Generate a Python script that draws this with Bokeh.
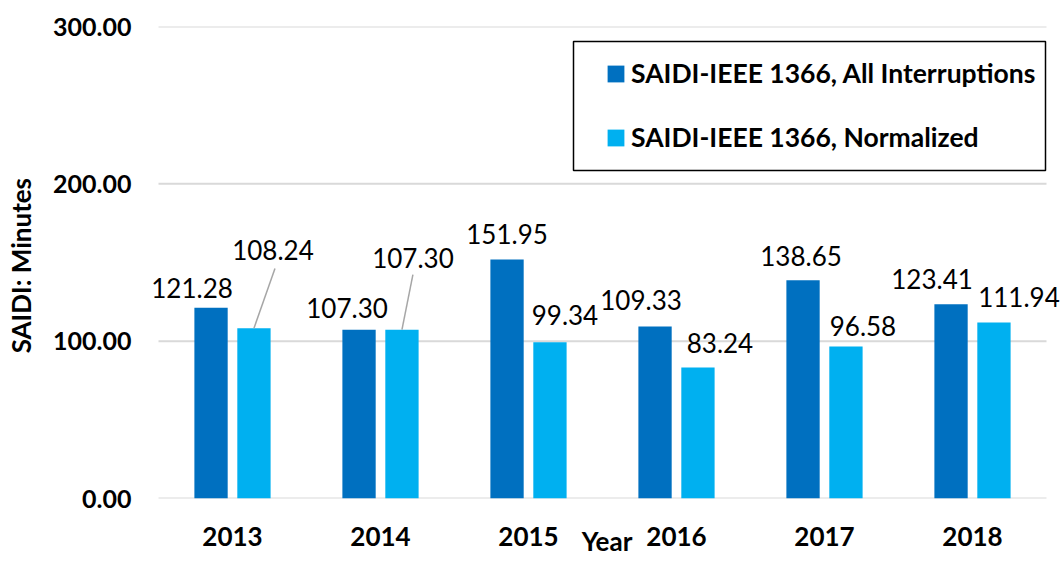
from bokeh.plotting import figure
from bokeh.models import (ColumnDataSource, Range1d, FixedTicker, NumeralTickFormatter,
                          Legend, LegendItem, BoxAnnotation)
from bokeh.embed import file_html
from bokeh.resources import INLINE
from bokeh.core.properties import value

# ---------------- data ----------------
years = ["2013", "2014", "2015", "2016", "2017", "2018"]
all_interruptions = [121.28, 107.30, 151.95, 109.33, 138.65, 123.41]
normalized = [108.24, 107.30, 99.34, 83.24, 96.58, 111.94]
y_ticks = [0, 100, 200, 300]
series_names = ["SAIDI-IEEE 1366, All Interruptions", "SAIDI-IEEE 1366, Normalized"]
x_title = "Year"
y_title = "SAIDI:  Minutes"
colors = ["#0070C0", "#00B0F0"]

# label nudges (screen px) as placed in the original chart
all_label_dx = [-19, -12, 0, -14, -2, -19]
all_label_dy = [-20, -22, -25, -26, -24, -25]
norm_label_dx = [19, 11, 15, 22, 17, 25]
norm_label_dy = [-78, -72, -27, -25, -21, -25]
# leader lines for the two displaced normalized labels
leader_idx = [0, 1]
leader_dx = [0.142, 0.074]
leader_dy = [38, 35]

FONT = "Lato"
BAR_W = 0.225
DODGE = 0.145
W, H = 1063, 569
LEFT, TOP, RIGHT, BOTTOM = 150, 26, 0, 71
PLOT_W_PX = 888          # width of the gridded area
PAD_L_PX, PAD_R_PX = 8, 17  # extra frame room (for labels) outside the gridded area
unit = PLOT_W_PX / len(years)

centers = [i + 0.5 for i in range(len(years))]
x_all = [c - DODGE for c in centers]
x_norm = [c + DODGE for c in centers]

src_all = ColumnDataSource(dict(x=x_all, top=all_interruptions,
                                lab=[f"{v:.2f}" for v in all_interruptions],
                                dx=all_label_dx, dy=all_label_dy))
src_norm = ColumnDataSource(dict(x=x_norm, top=normalized,
                                 lab=[f"{v:.2f}" for v in normalized],
                                 dx=norm_label_dx, dy=norm_label_dy))

p = figure(width=W, height=H, output_backend="svg", toolbar_location=None,
           x_range=Range1d(-PAD_L_PX / unit, len(years) + PAD_R_PX / unit),
           y_range=Range1d(0, 300),
           min_border_left=LEFT, min_border_right=RIGHT, min_border_top=TOP,
           min_border_bottom=BOTTOM)
p.outline_line_color = None
p.background_fill_color = "white"
p.border_fill_color = "white"

# horizontal gridlines across the category area only
p.segment(x0=[0] * len(y_ticks), x1=[len(years)] * len(y_ticks), y0=y_ticks, y1=y_ticks,
          line_color="#d9d9d9", line_width=2, level="underlay")

r_all = p.vbar(x="x", top="top", bottom=0, width=BAR_W, source=src_all,
               fill_color=colors[0], line_color=None)
r_norm = p.vbar(x="x", top="top", bottom=0, width=BAR_W, source=src_norm,
                fill_color=colors[1], line_color=None)

# leader lines
lx0 = [x_norm[i] for i in leader_idx]
ly0 = [normalized[i] for i in leader_idx]
lx1 = [x_norm[i] + d for i, d in zip(leader_idx, leader_dx)]
ly1 = [normalized[i] + d for i, d in zip(leader_idx, leader_dy)]
p.segment(x0=lx0, y0=ly0, x1=lx1, y1=ly1, line_color="#a6a6a6", line_width=1.5)

# data labels
for src in (src_all, src_norm):
    p.text(x="x", y="top", text="lab", source=src, x_offset="dx", y_offset="dy",
           text_align="center", text_baseline="middle",
           text_font=value(FONT), text_font_size="26px", text_color="black")

# axes
p.yaxis.ticker = FixedTicker(ticks=y_ticks)
p.yaxis.formatter = NumeralTickFormatter(format="0.00")
p.yaxis.axis_line_color = None
p.yaxis.major_tick_line_color = None
p.yaxis.minor_tick_line_color = None
p.yaxis.major_label_text_font = FONT
p.yaxis.major_label_text_font_style = "bold"
p.yaxis.major_label_text_font_size = "25px"
p.yaxis.major_label_text_color = "black"
p.yaxis.major_label_standoff = 13
p.yaxis.axis_label = y_title
p.yaxis.axis_label_text_font = FONT
p.yaxis.axis_label_text_font_style = "bold"
p.yaxis.axis_label_text_font_size = "26px"
p.yaxis.axis_label_text_color = "black"
p.yaxis.axis_label_standoff = 13

p.xaxis.ticker = FixedTicker(ticks=centers)
p.xaxis.major_label_overrides = {c: y for c, y in zip(centers, years)}
p.xaxis.axis_line_color = None
p.xaxis.major_tick_line_color = None
p.xaxis.minor_tick_line_color = None
p.xaxis.major_label_text_font = FONT
p.xaxis.major_label_text_font_style = "bold"
p.xaxis.major_label_text_font_size = "26px"
p.xaxis.major_label_text_color = "black"
p.xaxis.major_label_standoff = 22
p.xaxis.axis_label = x_title
p.xaxis.axis_label_text_font = FONT
p.xaxis.axis_label_text_font_style = "bold"
p.xaxis.axis_label_text_font_size = "26px"
p.xaxis.axis_label_text_color = "black"
p.xaxis.axis_label_standoff = -24

p.xgrid.grid_line_color = None
p.ygrid.grid_line_color = None

# legend (positions in px relative to the plot frame's bottom-left)
gx = PAD_L_PX
legend = Legend(items=[LegendItem(label=series_names[0], renderers=[r_all]),
                       LegendItem(label=series_names[1], renderers=[r_norm])],
                location=(gx + 447, 344), orientation="vertical",
                padding=0, margin=0, spacing=30,
                glyph_width=21, glyph_height=21, label_height=34, label_standoff=5,
                border_line_alpha=0, background_fill_alpha=0,
                label_text_font=FONT, label_text_font_style="bold",
                label_text_font_size="26.5px", label_text_color="black")
p.add_layout(legend)

box = BoxAnnotation(left=gx + 415, right=gx + 887, bottom=328, top=457,
                    left_units="screen", right_units="screen",
                    bottom_units="screen", top_units="screen",
                    fill_alpha=0, line_color="black", line_width=1.5, line_alpha=1)
p.add_layout(box)

open("out.html", "w").write(file_html(p, INLINE))
